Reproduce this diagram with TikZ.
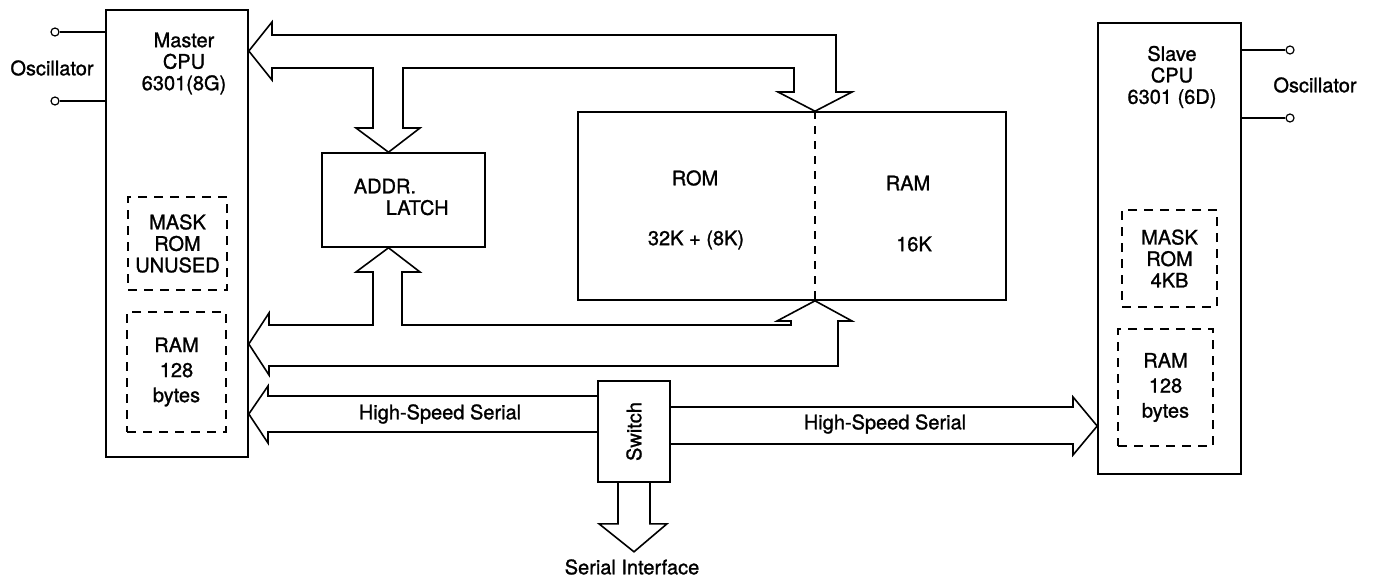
\documentclass[tikz,border=0pt]{standalone}
\usepackage{fontspec}
\setsansfont[FakeBold=1.2]{TeX Gyre Heros}
\usetikzlibrary{positioning, calc}

\begin{document}
\begin{tikzpicture}[
    x=1pt, y=-1pt,
    font=\sffamily\fontsize{20}{21.5}\selectfont,
    line width=1.6pt,
    box/.style={rectangle, draw=black, inner sep=0pt},
    dbox/.style={rectangle, draw=black, dash pattern=on 9pt off 7pt, inner sep=0pt, align=center},
    txt/.style={inner sep=0pt, align=center},
    bus/.style={draw=black, line join=miter},
    term/.style={circle, draw=black, fill=white, inner sep=0pt, minimum size=8pt, line width=1.2pt},
    wire/.style={draw=black}
]
\useasboundingbox (0,0) rectangle (1376,578);

% Nodes
\node (master) [box, minimum width=142pt, minimum height=447pt] at (177,233.5) {};
\node (mastertxt) [txt] at (184,63.5) {Master\\CPU\\6301(8G)};
\node (mrom) [dbox, minimum width=99pt, minimum height=93pt] at (177.5,243.5) {MASK\\ROM\\UNUSED};
\node (mram) [dbox, minimum width=99pt, minimum height=120pt, font=\sffamily\fontsize{20}{25}\selectfont] at (176.5,372) {RAM\\128\\bytes};

\node (slave) [box, minimum width=143pt, minimum height=451pt] at (1169.5,248.5) {};
\node (slavetxt) [txt] at (1172,77) {Slave\\CPU\\6301 (6D)};
\node (srom) [dbox, minimum width=95pt, minimum height=97pt] at (1169.5,258.5) {MASK\\ROM\\4KB};
\node (sram) [dbox, minimum width=95pt, minimum height=117pt, font=\sffamily\fontsize{20}{25}\selectfont] at (1165.5,387.5) {RAM\\128\\bytes};

\node (latch) [box, minimum width=163pt, minimum height=94pt] at (403.5,200) {};
\node (latchtxt) [txt, align=left, anchor=west] at (353,197) {ADDR.\\\hspace*{1.6em}LATCH};

\node (mem) [box, minimum width=428pt, minimum height=188pt] at (792,206) {};
\coordinate (split) at (815,206);
\node (romtxt) [txt] at (695,178) {ROM};
\node (romsize) [txt] at (696,240) {32K + (8K)};
\node (ramtxt) [txt] at (908,183) {RAM};
\node (ramsize) [txt] at (914,244) {16K};

\node (sw) [box, minimum width=72pt, minimum height=101pt] at (634,431.5) {};
\node (swtxt) [txt, rotate=90] at (634,431.5) {Switch};
\node (sint) [txt] at (632,567) {Serial Interface};

% Oscillator terminals
\node (oscm) [txt] at (52,68) {Oscillator};
\node (tm1) [term] at (55,32) {};
\node (tm2) [term] at (55,101) {};
\node (oscs) [txt] at (1315,85) {Oscillator};
\node (ts1) [term] at (1290,50) {};
\node (ts2) [term] at (1290,118) {};

% Paths
\draw [wire] (tm1) -- (tm1 -| master.west);
\draw [wire] (tm2) -- (tm2 -| master.west);
\draw [wire] (ts1) -- (ts1 -| slave.east);
\draw [wire] (ts2) -- (ts2 -| slave.east);
\draw [wire, dash pattern=on 8pt off 7pt] (mem.north -| split) -- (mem.south -| split);

% upper bus: master <-> latch, memory
\draw [bus] (master.east |- 0,51) -- (272,22) -- (272,35) -- (836,35) -- (836,92) -- (852,92)
    -- (mem.north -| split) -- (778,92) -- (794,92) -- (794,68) -- (403,68) -- (403,128) -- (420,128)
    -- ([xshift=-15pt]latch.north) -- (356,128) -- (373,128) -- (373,68) -- (272,68) -- (272,80) -- cycle;

% lower bus: master <-> latch, memory
\draw [bus] (master.east |- 0,344) -- (269,313) -- (269,325) -- (373,325) -- (373,272) -- (356,272)
    -- ([xshift=-15pt]latch.south) -- (420,272) -- (402,272) -- (402,325) -- (791,325) -- (791,321)
    -- (777,321) -- (mem.south -| split) -- (852,321) -- (838,321) -- (838,366) -- (269,366) -- (269,375) -- cycle;

% serial links
\draw [bus] (sw.west |- 0,396) -- (268,396) -- (268,386) -- (master.east |- 0,414) -- (268,443) -- (268,432) -- (sw.west |- 0,432);
\node (hss1) [txt] at (440,414) {High-Speed Serial};
\draw [bus] (sw.east |- 0,407) -- (1073,407) -- (1073,397) -- (slave.west |- 0,426) -- (1073,455) -- (1073,444) -- (sw.east |- 0,444);
\node (hss2) [txt] at (885,424) {High-Speed Serial};
\draw [bus] ([xshift=-16pt]sw.south) -- ++(0,41) -- ++(-19,0) -- ([yshift=-69pt]sw.south) -- ++(33,-28) -- ++(-17,0) -- ([xshift=16pt]sw.south);

\end{tikzpicture}
\end{document}
